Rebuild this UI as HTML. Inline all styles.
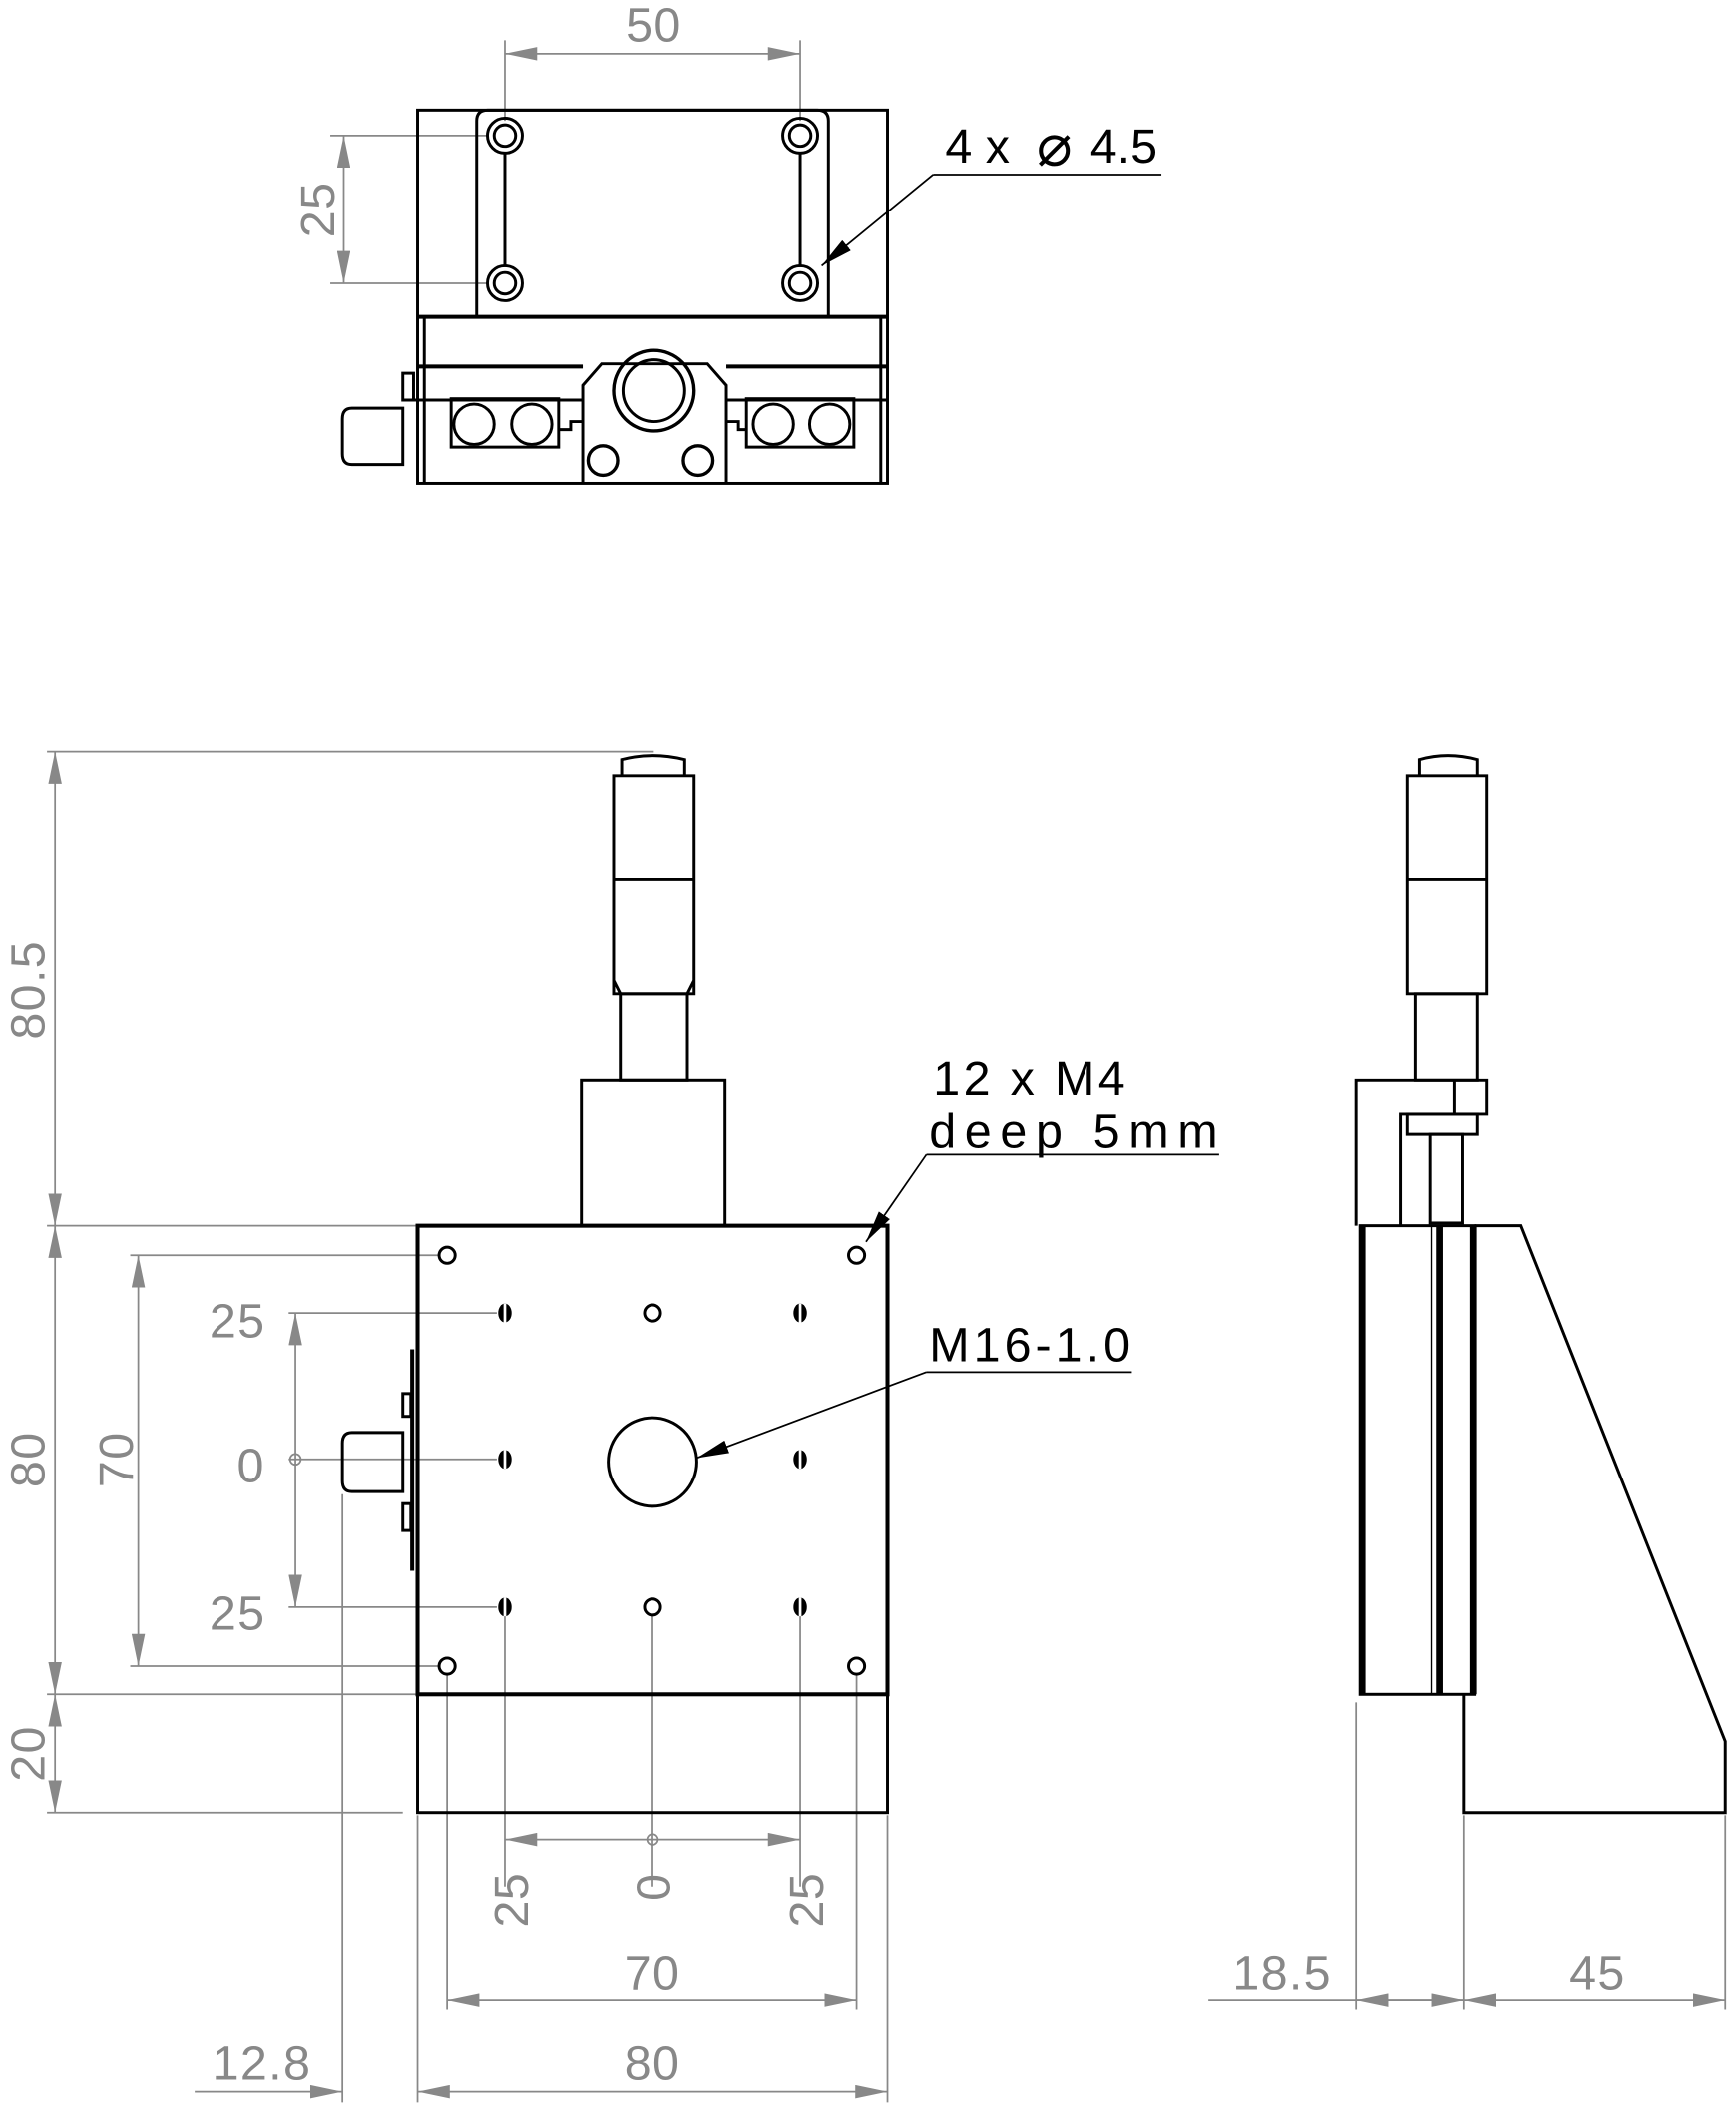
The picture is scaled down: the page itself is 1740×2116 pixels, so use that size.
<!DOCTYPE html>
<html><head><meta charset="utf-8"><style>html,body{margin:0;padding:0;background:#fff}svg{display:block}</style></head>
<body>
<svg width="1740" height="2116" viewBox="0 0 1293 1572.4" xmlns="http://www.w3.org/2000/svg" font-family="Liberation Sans, DejaVu Sans, sans-serif">
<defs>
<marker id="a" viewBox="0 0 24 10" refX="24" refY="5" markerWidth="24" markerHeight="10" markerUnits="userSpaceOnUse" orient="auto-start-reverse"><path d="M0,0L24,5L0,10z" fill="#888"/></marker>
<marker id="b" viewBox="0 0 24 10" refX="24" refY="5" markerWidth="24" markerHeight="10" markerUnits="userSpaceOnUse" orient="auto"><path d="M0,0L24,5L0,10z" fill="#000"/></marker>
</defs>
<g stroke="#888" stroke-width="1.3" fill="none">
<line x1="376" y1="30" x2="376" y2="90"/><line x1="596" y1="30" x2="596" y2="90"/>
<line x1="376" y1="40" x2="596" y2="40" marker-start="url(#a)" marker-end="url(#a)"/>
<line x1="246" y1="101" x2="364" y2="101"/><line x1="246" y1="211" x2="364" y2="211"/>
<line x1="256" y1="101" x2="256" y2="211" marker-start="url(#a)" marker-end="url(#a)"/>
<line x1="35" y1="560" x2="487" y2="560"/>
<line x1="35" y1="913" x2="311" y2="913"/>
<line x1="35" y1="1262" x2="311" y2="1262"/>
<line x1="35" y1="1350" x2="300" y2="1350"/>
<line x1="41" y1="560" x2="41" y2="913" marker-start="url(#a)" marker-end="url(#a)"/>
<line x1="41" y1="913" x2="41" y2="1262" marker-start="url(#a)" marker-end="url(#a)"/>
<line x1="41" y1="1262" x2="41" y2="1350" marker-start="url(#a)" marker-end="url(#a)"/>
<line x1="97" y1="935" x2="327" y2="935"/><line x1="97" y1="1241" x2="327" y2="1241"/>
<line x1="103" y1="935" x2="103" y2="1241" marker-start="url(#a)" marker-end="url(#a)"/>
<line x1="215" y1="978" x2="370" y2="978"/><line x1="215" y1="1087" x2="370" y2="1087"/><line x1="215" y1="1197" x2="370" y2="1197"/>
<line x1="220" y1="978" x2="220" y2="1197" marker-start="url(#a)" marker-end="url(#a)"/>
<circle cx="220" cy="1087" r="4"/>
<line x1="376" y1="1203" x2="376" y2="1405"/><line x1="486" y1="1203" x2="486" y2="1405"/><line x1="596" y1="1203" x2="596" y2="1405"/>
<line x1="376" y1="1370" x2="596" y2="1370" marker-start="url(#a)" marker-end="url(#a)"/>
<circle cx="486" cy="1370" r="4"/>
<line x1="333" y1="1247" x2="333" y2="1497"/><line x1="638" y1="1247" x2="638" y2="1497"/>
<line x1="333" y1="1490" x2="638" y2="1490" marker-start="url(#a)" marker-end="url(#a)"/>
<line x1="311" y1="1352" x2="311" y2="1566"/><line x1="661" y1="1352" x2="661" y2="1566"/>
<line x1="311" y1="1558" x2="661" y2="1558" marker-start="url(#a)" marker-end="url(#a)"/>
<line x1="255" y1="1113" x2="255" y2="1566"/>
<line x1="145" y1="1558" x2="255" y2="1558" marker-end="url(#a)"/>
<line x1="1010" y1="1268" x2="1010" y2="1497"/><line x1="1090" y1="1352" x2="1090" y2="1497"/><line x1="1285" y1="1352" x2="1285" y2="1497"/>
<line x1="900" y1="1490" x2="1090" y2="1490"/>
<line x1="1010" y1="1490" x2="1090" y2="1490" marker-start="url(#a)" marker-end="url(#a)"/>
<line x1="1090" y1="1490" x2="1285" y2="1490" marker-start="url(#a)" marker-end="url(#a)"/>
</g>
<g fill="#888" font-size="36" text-anchor="middle" letter-spacing="1">
<text x="487" y="31">50</text>
<text transform="translate(249,156) rotate(-90)">25</text>
<text transform="translate(33,737) rotate(-90)">80.5</text>
<text transform="translate(33,1087) rotate(-90)">80</text>
<text transform="translate(33,1306) rotate(-90)">20</text>
<text transform="translate(99,1087) rotate(-90)">70</text>
<text x="177" y="996">25</text><text x="187" y="1104">0</text><text x="177" y="1214">25</text>
<text transform="translate(393,1415) rotate(-90)">25</text>
<text transform="translate(499,1405) rotate(-90)">0</text>
<text transform="translate(613,1415) rotate(-90)">25</text>
<text x="486" y="1482">70</text>
<text x="486" y="1549">80</text>
<text x="195" y="1549">12.8</text>
<text x="955" y="1482">18.5</text>
<text x="1190" y="1482">45</text>
</g>
<g stroke="#000" stroke-width="2.2" fill="none">
<rect x="311" y="82" width="350" height="278"/>
<path d="M355,236V90Q355,82 363,82H609Q617,82 617,90V236"/>
<line x1="311" y1="236" x2="661" y2="236" stroke-width="3"/>
<line x1="316" y1="236" x2="316" y2="360"/><line x1="656" y1="236" x2="656" y2="360"/>
<line x1="311" y1="273" x2="434" y2="273" stroke-width="3"/><line x1="541" y1="273" x2="661" y2="273" stroke-width="3"/>
<line x1="300" y1="298" x2="434" y2="298"/><line x1="541" y1="298" x2="661" y2="298"/>
<line x1="376" y1="113" x2="376" y2="199"/><line x1="596" y1="113" x2="596" y2="199"/>
<circle cx="376" cy="101" r="13"/><circle cx="376" cy="101" r="8"/>
<circle cx="596" cy="101" r="13"/><circle cx="596" cy="101" r="8"/>
<circle cx="376" cy="211" r="13"/><circle cx="376" cy="211" r="8"/>
<circle cx="596" cy="211" r="13"/><circle cx="596" cy="211" r="8"/>
<path d="M434,360V287L448,271H527L541,287V360"/>
<circle cx="487" cy="291" r="30" stroke-width="2.5"/><circle cx="487" cy="291" r="23"/>
<circle cx="449" cy="343" r="11" stroke-width="2.5"/><circle cx="520" cy="343" r="11" stroke-width="2.5"/>
<rect x="336" y="297" width="80" height="36"/><rect x="556" y="297" width="80" height="36"/>
<circle cx="353" cy="316" r="15"/><circle cx="396" cy="316" r="15"/>
<circle cx="576" cy="316" r="15"/><circle cx="618" cy="316" r="15"/>
<path d="M416,320H425V314H434M541,314H550V320H556"/>
<path d="M300,304H262Q255,304 255,312V338Q255,346 262,346H300Z"/>
<rect x="300" y="278" width="8" height="20"/>
<rect x="311" y="913" width="350" height="349" stroke-width="3"/>
<rect x="311" y="1262" width="350" height="88"/>
<rect x="433" y="805" width="107" height="108"/>
<rect x="462" y="740" width="50" height="65"/>
<path d="M457,740V578H517V740Z M457,655H517 M457,730L462,740M517,730L512,740"/>
<path d="M463,578V566Q486,560 510,566V578"/>
<circle cx="333" cy="935" r="6"/><circle cx="638" cy="935" r="6"/>
<circle cx="333" cy="1241" r="6"/><circle cx="638" cy="1241" r="6"/>
<circle cx="486" cy="978" r="6"/><circle cx="486" cy="1197" r="6"/>
<circle cx="486" cy="1089" r="33"/>
<path d="M300,1067H262Q255,1067 255,1075V1103Q255,1111 262,1111H300Z"/>
<rect x="300" y="1038" width="6" height="17"/><rect x="300" y="1120" width="6" height="20"/>
<line x1="307" y1="1005" x2="307" y2="1170" stroke-width="3"/>
<path d="M1057,578V566Q1078,560 1100,566V578"/>
<path d="M1048,740V578H1107V740Z M1048,655H1107"/>
<rect x="1054" y="740" width="46" height="65"/>
<path d="M1010,913V805H1107V830H1043V913"/>
<line x1="1083" y1="805" x2="1083" y2="830"/>
<rect x="1048" y="830" width="52" height="15"/>
<rect x="1065" y="845" width="24" height="66"/>
<rect x="1013" y="913" width="85" height="349"/>
<line x1="1015" y1="913" x2="1015" y2="1262" stroke-width="4"/>
<line x1="1072" y1="913" x2="1072" y2="1262" stroke-width="5"/>
<line x1="1097" y1="913" x2="1097" y2="1262" stroke-width="5"/>
<line x1="1066" y1="913" x2="1066" y2="1262" stroke-width="1"/>
<path d="M1098,913H1133L1285,1297V1350H1090V1262"/>
<line x1="695" y1="130" x2="865" y2="130" stroke-width="1.3"/>
<line x1="695" y1="130" x2="612" y2="198" stroke-width="1.3" marker-end="url(#b)"/>
<line x1="690" y1="860" x2="908" y2="860" stroke-width="1.3"/>
<line x1="690" y1="860" x2="645" y2="925" stroke-width="1.3" marker-end="url(#b)"/>
<line x1="690" y1="1022" x2="843" y2="1022" stroke-width="1.3"/>
<line x1="690" y1="1022" x2="519" y2="1086" stroke-width="1.3" marker-end="url(#b)"/>
</g>
<g fill="#000">
<ellipse cx="376" cy="978" rx="5" ry="7"/><ellipse cx="596" cy="978" rx="5" ry="7"/>
<ellipse cx="376" cy="1087" rx="5" ry="7"/><ellipse cx="596" cy="1087" rx="5" ry="7"/>
<ellipse cx="376" cy="1197" rx="5" ry="7"/><ellipse cx="596" cy="1197" rx="5" ry="7"/>
</g>
<g fill="#fff"><rect x="375" y="971" width="2" height="14"/><rect x="595" y="971" width="2" height="14"/><rect x="375" y="1080" width="2" height="14"/><rect x="595" y="1080" width="2" height="14"/><rect x="375" y="1190" width="2" height="14"/><rect x="595" y="1190" width="2" height="14"/></g>
<g fill="#000" font-size="36">
<text x="704" y="121">4 x</text>
<text x="772" y="123" font-size="44">⌀</text>
<text x="812" y="121">4.5</text>
<text x="695" y="816" textLength="143" lengthAdjust="spacing">12 x M4</text>
<text x="692" y="855" textLength="215" lengthAdjust="spacing">deep 5mm</text>
<text x="692" y="1014" textLength="150" lengthAdjust="spacing">M16-1.0</text>
</g>
</svg>
</body></html>
